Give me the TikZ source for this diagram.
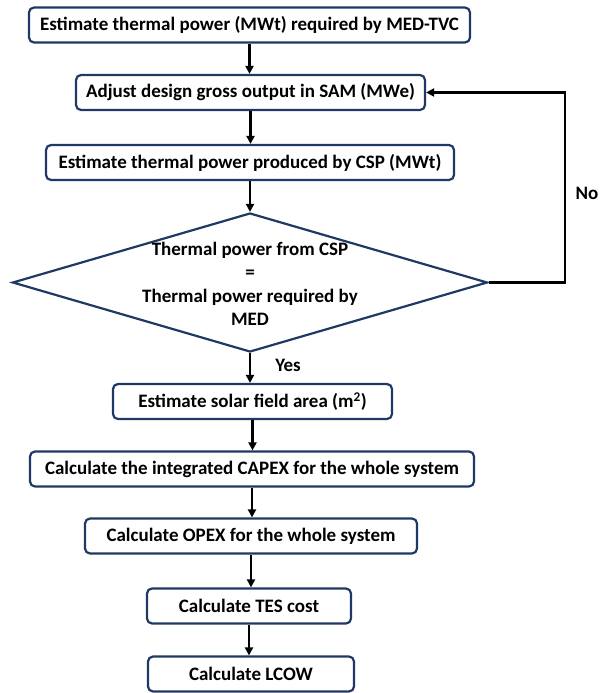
\documentclass[tikz,border=0pt]{standalone}
\usepackage{fontspec}
\setmainfont{Carlito}
\usetikzlibrary{arrows.meta,shapes.geometric}
\definecolor{navy}{HTML}{203864}
\begin{document}
\begin{tikzpicture}[x=1pt,y=-1pt,
  font=\fontsize{19}{22}\selectfont\bfseries,
  stepbox/.style={draw=navy,line width=2.2pt,rounded corners=5pt,inner sep=0pt,minimum height=35pt},
  flow/.style={line width=2.2pt,-{Triangle[length=8pt,width=8pt]}},
  lbl/.style={inner sep=0pt}]
\useasboundingbox (0,0) rectangle (600,693);
\node[stepbox,minimum width=441pt] (b1) at (249.5,25) {Estimate thermal power (MWt) required by MED-TVC};
\node[stepbox,minimum width=349pt] (b2) at (250.5,92.5) {Adjust design gross output in SAM (MWe)};
\node[stepbox,minimum width=408pt] (b3) at (250,162.5) {Estimate thermal power produced by CSP (MWt)};
\node[diamond,draw=navy,line width=2.2pt,inner sep=0pt,minimum width=475pt,minimum height=139pt] (d) at (250,282.5) {};
\node[lbl,align=center,font=\fontsize{19}{23.5}\selectfont\bfseries] (dt) at (250,284) {Thermal power from CSP\\=\\Thermal power required by\\MED};
\node[stepbox,minimum width=279pt] (b4) at (252.5,401.5) {Estimate solar field area (m\textsuperscript{2})};
\node[stepbox,minimum width=444pt] (b5) at (252,469) {Calculate the integrated CAPEX for the whole system};
\node[stepbox,minimum width=332pt] (b6) at (251,536) {Calculate OPEX for the whole system};
\node[stepbox,minimum width=204pt] (b7) at (249,606) {Calculate TES cost};
\node[stepbox,minimum width=206pt] (b8) at (251,674) {Calculate LCOW};
\node[lbl] (yes) at (288,365) {Yes};
\node[lbl] (no) at (587,193) {No};
\coordinate (c1) at (565,282.5);
\coordinate (c2) at (565,92.5);
\draw[flow] (b1.south) -- (b1.south |- b2.north);
\draw[flow] (b2.south) -- (b2.south |- b3.north);
\draw[flow] (b3.south) -- (d.north);
\draw[flow] (d.south) -- (d.south |- b4.north);
\draw[flow] (b4.south) -- (b4.south |- b5.north);
\draw[flow] (b5.south) -- (b5.south |- b6.north);
\draw[flow] (b6.south) -- (b6.south |- b7.north);
\draw[flow] (b7.south) -- (b7.south |- b8.north);
\draw[flow] (d.east) -- (c1) -- (c2) -- (b2.east);
\end{tikzpicture}
\end{document}
